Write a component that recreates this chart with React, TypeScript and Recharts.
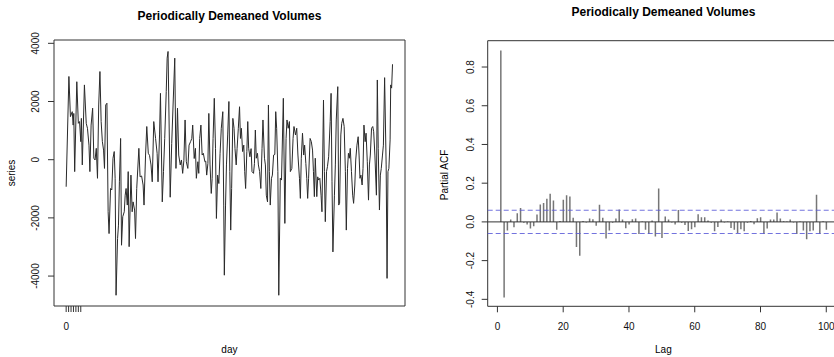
import React from "react";
import {
  LineChart,
  Line,
  ComposedChart,
  Bar,
  XAxis,
  YAxis,
  ReferenceArea,
  ReferenceLine,
} from "recharts";

// font close to R's default Helvetica
const FONT = '"Liberation Sans", Arial, Helvetica, sans-serif';

// left panel: demeaned volume series, [day, value]
const seriesPoints: [number, number][] = [
  [0, -930], [9, 2860], [14, 1480], [20, 1650], [23, 1190], [25, 1590], [28, -410], [35, 2680],
  [40, 1250], [44, 1310], [48, 620], [50, 1420], [53, -180], [60, 2570], [66, 1250], [70, 1080],
  [75, 500], [78, -410], [82, 1190], [87, 1770], [91, 50], [95, -10], [99, 390], [103, -640],
  [107, 1880], [111, 3030], [115, 1310], [119, 620], [123, 330], [126, -300], [130, 1880], [134, 1940],
  [138, -1790], [141, -2540], [146, -990], [150, -1040], [154, 50], [158, 280], [161, -640], [164, -4660],
  [169, -2710], [172, -2250], [175, -760], [179, 730], [182, -2940], [186, -1960], [191, -1790], [194, -1220],
  [197, -990], [201, -1560], [204, -410], [207, -2990], [213, -530], [217, -1790], [220, -1450], [225, -1730],
  [228, -2710], [232, -990], [239, 390], [243, -590], [248, -560], [253, -870], [256, -1560], [261, 160],
  [265, 1140], [270, 220], [274, 150], [279, -180], [283, -760], [288, 1310], [294, 730], [299, 220],
  [302, -760], [307, 850], [310, 2280], [316, -1450], [320, -410], [324, 730], [329, 2340], [332, 3490],
  [335, 3720], [342, -1290], [347, 560], [357, 3490], [361, -300], [366, 1770], [370, 160], [375, -180],
  [379, -10], [383, -470], [387, -20], [391, 1365], [395, -70], [400, -300], [404, 500], [409, 620],
  [413, 730], [416, 1190], [421, 40], [425, 390], [428, -640], [433, -70], [436, -470], [439, 730],
  [443, 1190], [447, 160], [451, 220], [456, -70], [459, -50], [462, -530], [466, -130], [469, 1590],
  [473, -180], [477, -1160], [480, -640], [483, 730], [487, 2110], [491, 390], [494, -2020], [498, -530],
  [502, -820], [506, 220], [510, 1080], [515, 1650], [518, -1560], [520, -3970], [524, -1560], [527, -180],
  [531, 850], [535, 2000], [538, -410], [541, -2420], [544, -990], [548, 1420], [552, 1080], [555, 390],
  [559, -180], [562, 390], [566, 1080], [570, 1820], [573, 730], [576, 1080], [580, 280], [584, 500],
  [587, -410], [590, -990], [594, 280], [597, 1310], [600, 390], [604, 100], [608, 380], [611, -410],
  [616, -470], [619, -130], [622, 1020], [625, 50], [629, 220], [632, -180], [636, -410], [640, -990],
  [644, 390], [647, 1365], [652, 50], [655, -180], [658, -1220], [662, -1450], [665, 1880], [668, -410],
  [671, -1560], [675, -640], [678, -530], [682, 160], [686, 180], [689, 1650], [692, 1080], [696, -410],
  [699, -4660], [704, -640], [708, -700], [714, 2110], [719, -2190], [723, 730], [726, 1365], [730, 1080],
  [734, 1310], [737, -410], [742, -300], [746, 730], [749, 1140], [754, 850], [758, 1080], [762, 160],
  [767, -640], [770, -1330], [773, 50], [777, 910], [781, 160], [784, 500], [788, -130], [791, -640],
  [794, -1330], [797, -640], [802, 730], [806, 620], [810, 330], [813, -410], [816, -1270], [819, 50],
  [824, -1270], [827, -590], [830, -700], [834, -640], [838, -1220], [841, -1790], [846, 2050], [849, -410],
  [852, -2130], [856, -410], [859, -240], [863, 100], [868, 1310], [871, 2280], [874, -760], [877, -3170],
  [882, -1220], [885, -180], [888, 1365], [893, 2510], [896, -1560], [899, -1500], [903, 850], [906, 1250],
  [910, 1420], [914, 1140], [918, -410], [921, -2420], [925, -300], [928, 220], [931, 50], [934, 390],
  [938, -410], [942, -1220], [945, -1500], [949, -870], [952, -10], [956, 500], [960, 790], [963, 160],
  [966, -640], [969, -530], [973, -870], [976, -300], [979, 1190], [983, 620], [986, 910], [990, -70],
  [994, -1390], [997, -180], [1000, 160], [1004, 1080], [1008, 1140], [1011, 960], [1015, 160], [1020, -1220],
  [1023, 2740], [1026, 390], [1030, -1730], [1033, -530], [1036, -300], [1040, 160], [1043, 500], [1047, 2820],
  [1052, -180], [1055, -4080], [1058, -410], [1061, -300], [1065, 680], [1067, 2570], [1070, 2460], [1073, 3280],
];
const seriesTicks = [4000, 2000, 0, -2000, -4000];
const dayTicks = [0, 8, 16, 24, 32, 40, 48];
const dayDomain = [-40, 1114];
const seriesDomain = [-5029, 4114];

// right panel: partial autocorrelations, lags 1..100
const pacfValues = [
  0.886, -0.39, -0.045, 0.012, -0.028, 0.045, 0.072, -0.005, -0.014, -0.034,
  -0.022, 0.038, 0.09, 0.097, 0.12, 0.145, 0.11, -0.04, 0.005, 0.115,
  0.138, 0.131, 0.022, -0.13, -0.175, 0.005, -0.003, 0.017, 0.014, -0.02,
  0.088, 0.022, -0.086, -0.045, -0.005, 0.017, 0.064, 0.013, -0.033, -0.014,
  0.014, 0.017, -0.062, 0.002, -0.04, -0.062, 0.007, -0.076, 0.172, -0.083,
  0.028, 0.013, -0.003, -0.013, 0.062, -0.005, -0.016, -0.047, -0.038, -0.028,
  0.04, 0.024, 0.024, 0.007, -0.005, -0.048, -0.026, 0.012, -0.003, 0.002,
  -0.031, -0.041, -0.057, -0.038, -0.048, -0.005, 0.005, -0.012, 0.019, 0.024,
  -0.062, -0.034, 0.012, 0.012, 0.048, 0.017, 0.003, 0.002, 0.013, -0.003,
  -0.062, 0.002, -0.045, -0.09, -0.048, -0.045, 0.14, -0.062, 0.003, -0.04,
];
const pacfTicks = [-0.4, -0.2, 0, 0.2, 0.4, 0.6, 0.8];
const lagTicks = [0, 20, 40, 60, 80, 100];
const lagDomain = [-2.96, 103.96];
const pacfDomain = [-0.436, 0.936];
const confLimit = 0.06;

const seriesData = seriesPoints.map(([day, value]) => ({ day, value }));
const pacfData = pacfValues.map((pacf, i) => ({ lag: i + 1, pacf }));

// y tick labels written vertically, like R's default las=0
const RotatedTick = (props: any) => {
  const { y, payload, labelX, fmt } = props;
  const txt = fmt ? fmt(payload.value) : String(payload.value);
  return (
    <text
      x={labelX}
      y={y}
      dy="0.36em"
      textAnchor="middle"
      fontSize={10}
      fill="#111"
      transform={`rotate(-90, ${labelX}, ${y})`}
    >
      {txt}
    </text>
  );
};

const BottomTick = (props: any) => {
  const { x, payload, labelY, only } = props;
  if (only !== undefined && payload.value !== only) return <g />;
  return (
    <text x={x} y={labelY} textAnchor="middle" fontSize={10} fill="#111">
      {payload.value}
    </text>
  );
};

const Txt = ({ x, y, children, bold, size = 10, rotate = false }: any) => (
  <div
    style={{
      position: "absolute",
      left: x,
      top: y,
      transform: `translate(-50%, -50%)${rotate ? " rotate(-90deg)" : ""}`,
      fontSize: size,
      fontWeight: bold ? 700 : 400,
      lineHeight: 1,
      whiteSpace: "nowrap",
      color: "#000",
    }}
  >
    {children}
  </div>
);

export default function App() {
  return (
    <div
      style={{
        position: "absolute",
        left: 0,
        top: 0,
        width: 834,
        height: 357,
        overflow: "hidden",
        background: "#fff",
        fontFamily: FONT,
      }}
    >
      <div style={{ position: "absolute", left: 0, top: 0 }}>
        <LineChart
          width={420}
          height={357}
          data={seriesData}
          margin={{ top: 40, right: 15, bottom: 0, left: 0 }}
        >
          <XAxis
            type="number"
            dataKey="day"
            domain={dayDomain}
            allowDataOverflow
            ticks={dayTicks}
            interval={0}
            tickSize={6}
            axisLine={false}
            tickLine={{ stroke: "#333" }}
            height={51}
            tick={<BottomTick labelY={329.5} only={0} />}
          />
          <YAxis
            type="number"
            domain={seriesDomain}
            allowDataOverflow
            ticks={seriesTicks}
            interval={0}
            width={54}
            tickSize={6}
            axisLine={false}
            tickLine={{ stroke: "#333" }}
            tick={<RotatedTick labelX={35} />}
          />
          <ReferenceArea
            x1={dayDomain[0]}
            x2={dayDomain[1]}
            y1={seriesDomain[0]}
            y2={seriesDomain[1]}
            fill="none"
            fillOpacity={0}
            stroke="#333"
            strokeWidth={1}
            strokeOpacity={1}
          />
          <Line
            type="linear"
            dataKey="value"
            stroke="#2a2a2a"
            strokeWidth={1}
            dot={false}
            isAnimationActive={false}
          />
        </LineChart>
      </div>

      <div style={{ position: "absolute", left: 420, top: 0 }}>
        <ComposedChart
          width={440}
          height={357}
          data={pacfData}
          margin={{ top: 40.7, right: 20.7, bottom: 0, left: 0 }}
        >
          <XAxis
            type="number"
            dataKey="lag"
            domain={lagDomain}
            allowDataOverflow
            ticks={lagTicks}
            interval={0}
            tickSize={6}
            axisLine={false}
            tickLine={{ stroke: "#333" }}
            height={50.7}
            tick={<BottomTick labelY={329.5} />}
          />
          <YAxis
            type="number"
            domain={pacfDomain}
            allowDataOverflow
            ticks={pacfTicks}
            interval={0}
            width={67.7}
            tickSize={6}
            axisLine={false}
            tickLine={{ stroke: "#333" }}
            tick={<RotatedTick labelX={50} fmt={(v: number) => v.toFixed(1)} />}
          />
          <ReferenceArea
            x1={lagDomain[0]}
            x2={lagDomain[1]}
            y1={pacfDomain[0]}
            y2={pacfDomain[1]}
            fill="none"
            fillOpacity={0}
            stroke="#333"
            strokeWidth={1}
            strokeOpacity={1}
          />
          <ReferenceLine y={0} stroke="#333" strokeWidth={1} />
          <ReferenceLine
            y={confLimit}
            stroke="#5a5ad8"
            strokeOpacity={0.85}
            strokeWidth={1.1}
            strokeDasharray="5 3"
          />
          <ReferenceLine
            y={-confLimit}
            stroke="#5a5ad8"
            strokeOpacity={0.85}
            strokeWidth={1.1}
            strokeDasharray="5 3"
          />
          <Bar dataKey="pacf" fill="#767676" barSize={1.5} isAnimationActive={false} />
        </ComposedChart>
      </div>

      <Txt x={229.4} y={15.8} size={12} bold>
        Periodically Demeaned Volumes
      </Txt>
      <Txt x={663.4} y={12.2} size={12} bold>
        Periodically Demeaned Volumes
      </Txt>
      <Txt x={229.4} y={349.5}>day</Txt>
      <Txt x={663.4} y={350}>Lag</Txt>
      <Txt x={11.5} y={173} rotate>series</Txt>
      <Txt x={445} y={175} rotate>Partial ACF</Txt>
    </div>
  );
}
